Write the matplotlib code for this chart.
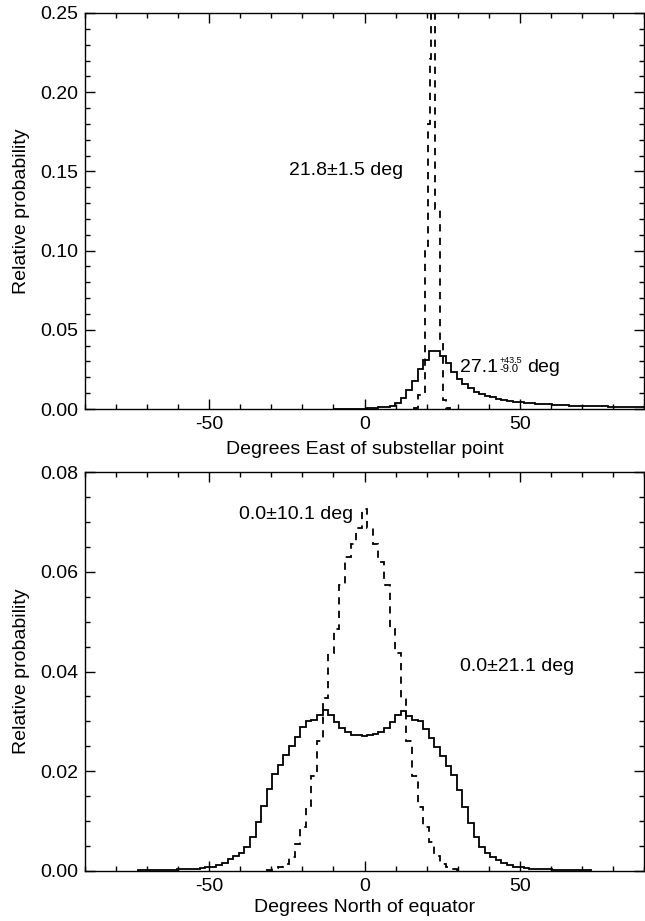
import numpy as np
import matplotlib
matplotlib.use('Agg')
import matplotlib.pyplot as plt
from matplotlib.ticker import MultipleLocator, FormatStrFormatter

plt.rcParams['font.family'] = ['Liberation Sans', 'DejaVu Sans']
plt.rcParams['font.size'] = 14
plt.rcParams['axes.unicode_minus'] = False

bin_w = 1.8  # histogram bin width in degrees

# top panel: longitude of hot spot (degrees east of substellar point)
lon_start = -9.0
lon_broad = [0.0001, 0.0001, 0.0002, 0.0002, 0.0003, 0.0003,
             0.0005, 0.0007, 0.0010, 0.0015, 0.0022, 0.0035, 0.0070, 0.0120, 0.0180, 0.0250, 0.0310,
             0.0365, 0.0368, 0.0335, 0.0290, 0.0235, 0.0190, 0.0155, 0.0130, 0.0110, 0.0095, 0.0083,
             0.0073, 0.0065, 0.0058, 0.0052, 0.0047, 0.0043, 0.0039, 0.0036, 0.0033, 0.0031, 0.0029,
             0.0027, 0.0025, 0.0023, 0.0022, 0.0021, 0.0020, 0.0019, 0.0018, 0.0017, 0.0016, 0.0015,
             0.0015, 0.0014, 0.0013, 0.0013, 0.0012, 0.0012]
lon_narrow_edges = [16.0, 17.2, 19.5, 20.5, 21.0, 21.5, 22.8, 24.3, 25.2, 26.1, 27.5]
lon_narrow = [0.0005, 0.009, 0.103, 0.180, 0.221, 0.275, 0.126, 0.042, 0.006, 0.0005]

# bottom panel: latitude (degrees north of equator)
lat_start = -72.0
lat_broad = [0.0001, 0.0001, 0.0001, 0.0002, 0.0002, 0.0002, 0.0002, 0.0003, 0.0003, 0.0004,
             0.0004, 0.0005, 0.0007, 0.0009, 0.0012, 0.0017, 0.0024, 0.0030, 0.0036, 0.0048,
             0.0068, 0.0098, 0.0130, 0.0165, 0.0195, 0.0212, 0.0232, 0.0250, 0.0268, 0.0288,
             0.0301, 0.0302, 0.0312, 0.0322, 0.0312, 0.0298, 0.0286, 0.0278, 0.0273, 0.0272,
             0.0271,
             0.0272, 0.0274, 0.0278, 0.0287, 0.0299, 0.0312, 0.0321, 0.0310, 0.0303, 0.0300,
             0.0285, 0.0266, 0.0249, 0.0230, 0.0210, 0.0193, 0.0163, 0.0128, 0.0097, 0.0069,
             0.0049, 0.0037, 0.0029, 0.0023, 0.0017, 0.0012, 0.0009, 0.0007, 0.0005, 0.0004,
             0.0004, 0.0003, 0.0003, 0.0002, 0.0002, 0.0002, 0.0001, 0.0001, 0.0001, 0.0001]
lat_nstart = -30.6
lat_narrow = [0.0002, 0.0005, 0.0007, 0.0015, 0.0029, 0.0055, 0.0089, 0.0130, 0.0190, 0.0260,
              0.0346, 0.0437, 0.0486, 0.0573, 0.0630, 0.0655, 0.0688,
              0.0725,
              0.0688, 0.0655, 0.0620, 0.0573, 0.0486, 0.0437, 0.0346, 0.0260, 0.0190, 0.0129,
              0.0089, 0.0059, 0.0030, 0.0015, 0.0007, 0.0004, 0.0002]


def edges_from(start, vals):
    # bin edges for a histogram whose first bin is centred on start
    return start - bin_w / 2 + bin_w * np.arange(len(vals) + 1)


def style_axes(ax, ymax, ymajor, yminor):
    ax.set_xlim(-90, 90)
    ax.set_ylim(0, ymax)
    ax.xaxis.set_major_locator(MultipleLocator(50))
    ax.xaxis.set_minor_locator(MultipleLocator(10))
    ax.yaxis.set_major_locator(MultipleLocator(ymajor))
    ax.yaxis.set_minor_locator(MultipleLocator(yminor))
    ax.yaxis.set_major_formatter(FormatStrFormatter('%.2f'))
    ax.tick_params(which='both', direction='in', top=True, right=True, width=1)
    ax.tick_params(which='major', length=7, labelsize=14, pad=5)
    ax.tick_params(which='minor', length=3.6)
    for s in ax.spines.values():
        s.set_linewidth(1)
    ax.set_ylabel('Relative probability', fontsize=14, labelpad=7)


dash = (0, (4, 3.5))
fig = plt.figure(figsize=(6.45, 9.21), dpi=100)

ax1 = fig.add_axes([0.1318, 0.5559, 0.8667, 0.4300])
ax1.stairs(lon_broad, edges_from(lon_start, lon_broad), color='black', lw=1.3)
ax1.stairs(lon_narrow, lon_narrow_edges, color='black', lw=1.3, linestyle=dash)
style_axes(ax1, 0.25, 0.05, 0.01)
ax1.set_xlabel('Degrees East of substellar point', fontsize=14, labelpad=6)
ax1.text(-24.3, 0.148, '21.8\u00b11.5 deg', fontsize=14, va='baseline', ha='left')
t27 = ax1.text(30.7, 0.0233, '27.1', fontsize=14, va='baseline', ha='left')
sup = ax1.annotate('+43.5', xy=(1.0, 0.0233), xycoords=(t27, 'data'), xytext=(1, 6.5),
                   textcoords='offset points', fontsize=6.5, va='baseline', ha='left')
ax1.annotate('-9.0', xy=(1.0, 0.0233), xycoords=(t27, 'data'), xytext=(1, 0),
             textcoords='offset points', fontsize=8, va='baseline', ha='left')
ax1.annotate('deg', xy=(1.0, 0.0233), xycoords=(sup, 'data'), xytext=(4, 0),
             textcoords='offset points', fontsize=14, va='baseline', ha='left')

ax2 = fig.add_axes([0.1318, 0.0543, 0.8667, 0.4332])
ax2.stairs(lat_broad, edges_from(lat_start, lat_broad), color='black', lw=1.3)
ax2.stairs(lat_narrow, edges_from(lat_nstart, lat_narrow), color='black', lw=1.3, linestyle=dash)
style_axes(ax2, 0.08, 0.02, 0.005)
ax2.set_xlabel('Degrees North of equator', fontsize=14, labelpad=3)
ax2.text(-40.4, 0.0706, '0.0\u00b110.1 deg', fontsize=14, va='baseline', ha='left')
ax2.text(30.7, 0.0401, '0.0\u00b121.1 deg', fontsize=14, va='baseline', ha='left')

fig.savefig('out.png', dpi=100)
